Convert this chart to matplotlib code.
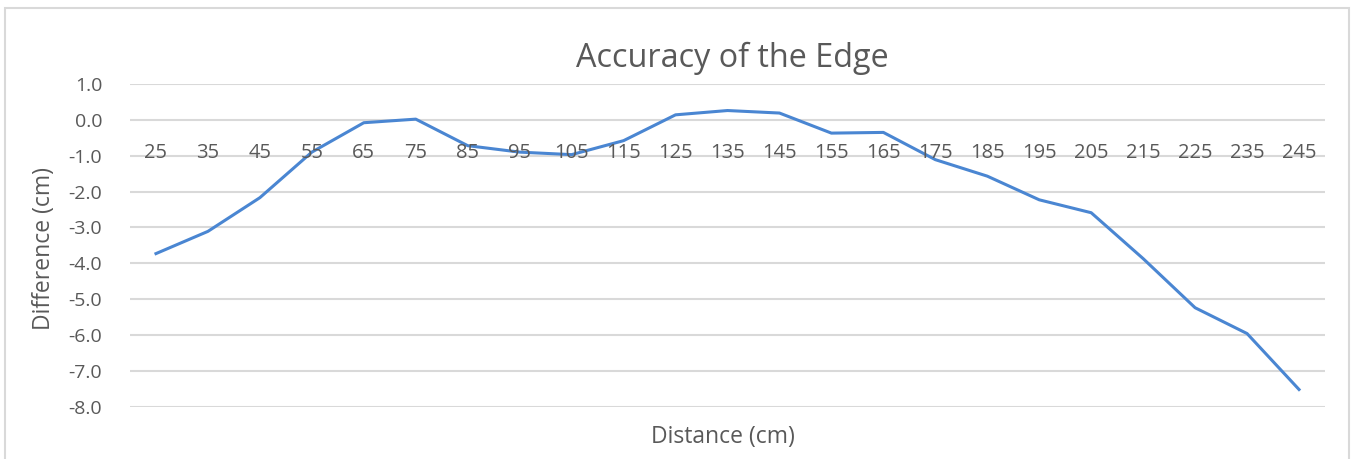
import matplotlib
matplotlib.use("Agg")
import matplotlib.pyplot as plt
from matplotlib.patches import Rectangle
from matplotlib.transforms import offset_copy

# -----------------------------
# Data
# -----------------------------
distances = [25, 35, 45, 55, 65, 75, 85, 95, 105, 115, 125, 135,
             145, 155, 165, 175, 185, 195, 205, 215, 225, 235, 245]
difference = [-3.73, -3.11, -2.17, -0.90, -0.08, 0.02, -0.72, -0.90,
              -0.97, -0.58, 0.14, 0.26, 0.19, -0.37, -0.35, -1.11,
              -1.57, -2.23, -2.59, -3.87, -5.24, -5.96, -7.52]
y_ticks = [1, 0, -1, -2, -3, -4, -5, -6, -7, -8]

TEXT = "#595959"
GRID = "#d9d9d9"
LINE = "#4a86d2"

plt.rcParams["font.family"] = ["Open Sans", "DejaVu Sans"]

W, H = 1352, 459
fig = plt.figure(figsize=(W / 100, H / 100), dpi=100)

# axes placed so gridlines span the same pixels as the reference
left, right = 130 / W, 1325 / W
top, bottom = 1 - 84 / H, 1 - 406.7 / H
ax = fig.add_axes([left, bottom, right - left, top - bottom])

# chart frame
fig.patches.append(Rectangle((5 / W, -0.1), 1344 / W, 1.1 - 8 / H,
                             transform=fig.transFigure, fill=False,
                             edgecolor=GRID, linewidth=1.5))

x = list(range(len(distances)))
ax.plot(x, difference, color=LINE, linewidth=2.2, solid_joinstyle="round")

ax.set_xlim(-0.5, len(distances) - 0.5)
ax.set_ylim(-8, 1)
ax.set_yticks(y_ticks)
ax.set_yticklabels([f"{v:.1f}" for v in y_ticks])
ax.grid(axis="y", color=GRID, linewidth=1.5)
ax.set_axisbelow(True)
ax.set_xticks([])
for s in ax.spines.values():
    s.set_visible(False)
ax.tick_params(axis="y", length=0, pad=20, labelsize=14, labelcolor=TEXT)

# category labels sit just under the zero line (Excel axis crossing at 0)
trans = offset_copy(ax.transData, fig=fig, x=0, y=-38.5, units="dots")
for i, d in enumerate(distances):
    ax.text(i, 0, str(d), transform=trans, ha="center", va="baseline",
            fontsize=14.5, color=TEXT)

fig.text(732 / W, 1 - 67 / H, "Accuracy of the Edge", ha="center",
         va="baseline", fontsize=23.3, color=TEXT)
fig.text(723 / W, 1 - 443 / H, "Distance (cm)", ha="center", va="baseline",
         fontsize=16.5, color=TEXT)
fig.text(44 / W, 1 - 248 / H, "Difference (cm)", ha="center", va="center",
         rotation=90, fontsize=16.5, color=TEXT)

fig.savefig("out.png", dpi=100, facecolor="white")
